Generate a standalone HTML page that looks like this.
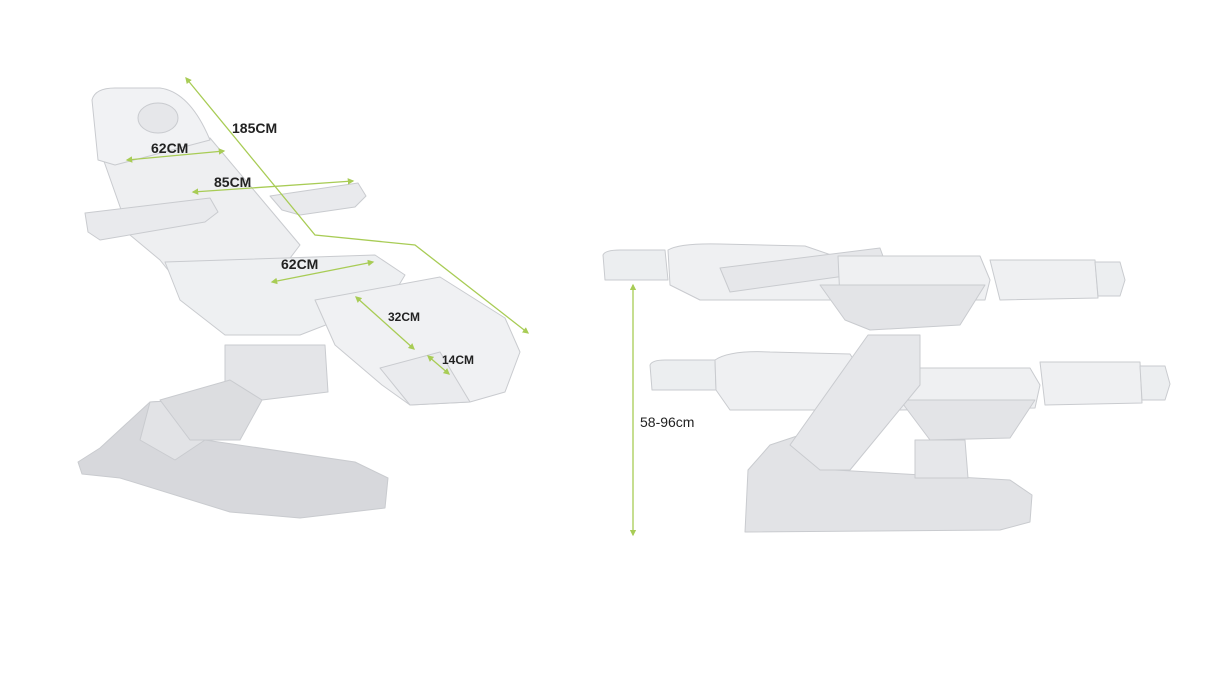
<!DOCTYPE html>
<html><head><meta charset="utf-8"><style>
html,body{margin:0;padding:0;background:#fff;}
svg{display:block}
text{font-family:"Liberation Sans",sans-serif;fill:#222}
</style></head><body>
<svg width="1225" height="679" viewBox="0 0 1225 679" xmlns="http://www.w3.org/2000/svg">
<defs>
<marker id="a" viewBox="0 0 10 10" refX="8" refY="5" markerWidth="5" markerHeight="5" orient="auto-start-reverse"><path d="M0,0L10,5L0,10z" fill="#a8cc55"/></marker>
</defs>
<g stroke="#c9cbcf" stroke-width="1" stroke-linejoin="round">
<!-- left chair base -->
<path d="M78,462 L100,448 L150,402 L185,400 L205,440 L355,462 L388,478 L385,508 L300,518 L230,512 L120,478 L82,474 Z" fill="#d7d8dc"/>
<path d="M150,402 L185,400 L205,440 L175,460 L140,440 Z" fill="#e2e3e6"/>
<path d="M225,345 L325,345 L328,392 L262,400 L225,388 Z" fill="#e4e5e8"/>
<path d="M160,400 L230,380 L262,400 L240,440 L190,440 Z" fill="#dcdde0"/>
<!-- backrest -->
<path d="M100,150 L210,138 L300,245 L275,278 L180,285 L160,260 L130,235 Z" fill="#eeeff1"/>
<!-- headrest -->
<path d="M92,100 Q95,88 115,88 L160,88 Q190,92 210,140 L115,165 L98,160 Z" fill="#f1f2f4"/>
<ellipse cx="158" cy="118" rx="20" ry="15" fill="#e6e7ea"/>
<!-- seat -->
<path d="M165,262 L375,255 L405,275 L390,300 L300,335 L225,335 L180,300 Z" fill="#eef0f2"/>
<!-- legrest -->
<path d="M315,300 L440,277 L505,318 L520,352 L505,392 L470,402 L410,405 L382,385 L335,345 Z" fill="#f0f1f3"/>
<path d="M380,368 L440,352 L470,402 L410,405 Z" fill="#eaebee"/>
<!-- armrests -->
<path d="M85,213 L210,198 L218,212 L205,222 L100,240 L88,232 Z" fill="#e9eaed"/>
<path d="M270,196 L358,183 L366,196 L355,207 L300,215 L282,210 Z" fill="#e9eaed"/>
<!-- right top table -->
<path d="M603,255 Q605,250 620,250 L665,250 L668,280 L605,280 Z" fill="#eceef0"/>
<path d="M668,250 Q680,243 720,244 L805,246 L840,258 L840,300 L700,300 L670,285 Z" fill="#eff0f2"/>
<path d="M720,268 L880,248 L888,270 L730,292 Z" fill="#e6e7ea"/>
<path d="M838,256 L980,256 L990,280 L985,300 L840,300 Z" fill="#eff0f2"/>
<path d="M820,285 L985,285 L960,325 L870,330 L845,320 Z" fill="#e3e4e7"/>
<path d="M990,260 L1095,260 L1098,298 L1000,300 Z" fill="#eff0f2"/>
<path d="M1095,262 L1120,262 L1125,280 L1120,296 L1098,296 Z" fill="#eceef0"/>
<!-- base -->
<path d="M745,532 L748,470 L770,445 L800,435 L835,470 L1010,480 L1032,495 L1030,522 L1000,530 Z" fill="#e2e3e6"/>
<path d="M915,440 L965,440 L968,478 L915,478 Z" fill="#e6e7ea"/>
<!-- lower table -->
<path d="M650,365 Q652,360 665,360 L715,360 L716,390 L652,390 Z" fill="#eceef0"/>
<path d="M715,360 Q730,350 770,352 L850,354 L860,370 L830,410 L730,410 L716,390 Z" fill="#eff0f2"/>
<path d="M895,368 L1030,368 L1040,385 L1035,408 L900,410 Z" fill="#eff0f2"/>
<path d="M900,400 L1035,400 L1010,438 L930,440 Z" fill="#e3e4e7"/>
<path d="M1040,362 L1140,362 L1142,403 L1045,405 Z" fill="#eff0f2"/>
<path d="M1140,366 L1165,366 L1170,384 L1165,400 L1142,400 Z" fill="#eceef0"/>
<!-- column in front -->
<path d="M790,445 L868,335 L920,335 L920,385 L850,470 L820,470 Z" fill="#e6e7ea"/>
</g>
<!-- green dimension lines -->
<g stroke="#a8cc55" stroke-width="1.3" fill="none">
<path d="M186,78 L315,235 L415,245 L528,333" marker-start="url(#a)" marker-end="url(#a)"/>
<line x1="127" y1="160" x2="224" y2="151" marker-start="url(#a)" marker-end="url(#a)"/>
<line x1="193" y1="192" x2="353" y2="181" marker-start="url(#a)" marker-end="url(#a)"/>
<line x1="272" y1="282" x2="373" y2="262" marker-start="url(#a)" marker-end="url(#a)"/>
<line x1="356" y1="297" x2="414" y2="349" marker-start="url(#a)" marker-end="url(#a)"/>
<line x1="428" y1="356" x2="449" y2="374" marker-start="url(#a)" marker-end="url(#a)"/>
<line x1="633" y1="285" x2="633" y2="535" marker-start="url(#a)" marker-end="url(#a)"/>
</g>
<g font-size="14" font-weight="bold">
<text x="232" y="133">185CM</text>
<text x="151" y="153">62CM</text>
<text x="214" y="187">85CM</text>
<text x="281" y="269">62CM</text>
<text x="388" y="321" font-size="12">32CM</text>
<text x="442" y="364" font-size="12">14CM</text>
</g>
<text x="640" y="427" font-size="14">58-96cm</text>
</svg>
</body></html>
